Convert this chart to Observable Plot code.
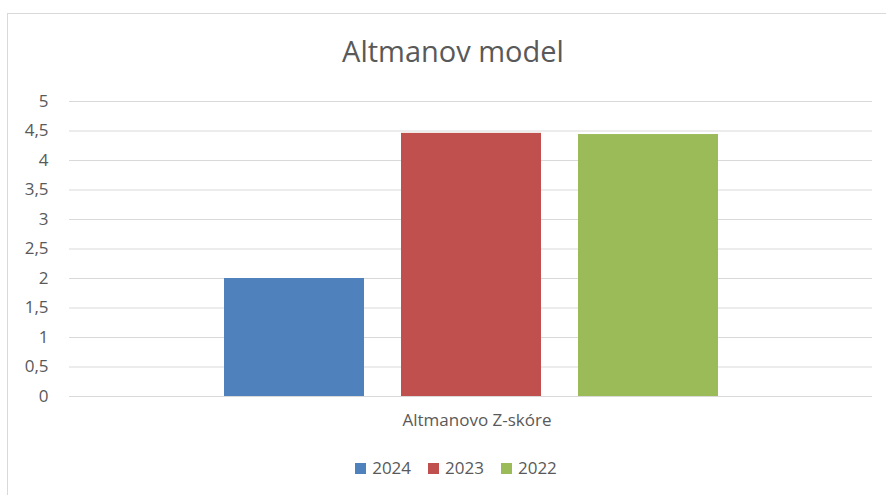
<!DOCTYPE html>
<html>
<head>
<meta charset="utf-8">
<script src="https://cdn.jsdelivr.net/npm/d3@7"></script>
<script src="https://cdn.jsdelivr.net/npm/@observablehq/plot@0.6"></script>
<style>
  html, body { margin: 0; padding: 0; background: #fff; }
  body { width: 886px; height: 495px; overflow: hidden; position: relative; font-family: "Open Sans", sans-serif; color: #595959; }
  #frame { position: absolute; left: 7px; top: 13px; width: 900px; height: 500px; border: 1px solid #d9d9d9; box-sizing: border-box; }
  #title { position: absolute; left: 0; width: 906px; top: 31px; text-align: center; font-size: 29px; line-height: 40px; color: #595959; }
  #chart { position: absolute; left: 0; top: 90px; }
  #legend { position: absolute; left: 0; width: 912px; top: 455px; display: flex; justify-content: center; gap: 17px; font-size: 17px; line-height: 26px; }
  .item { display: flex; align-items: center; gap: 6px; }
  .sw { width: 11px; height: 11px; display: inline-block; }
</style>
</head>
<body>
<div id="frame"></div>
<div id="title">Altmanov model</div>
<div id="chart"></div>
<div id="legend"></div>
<script>
const category = ["Altmanovo Z-skóre"];
const years = ["2024", "2023", "2022"];
const values = [2.0, 4.46, 4.44];
const colors = ["#4f81bd", "#c0504d", "#9bbb59"];
const yTicks = [0, 0.5, 1, 1.5, 2, 2.5, 3, 3.5, 4, 4.5, 5];

const data = years.map((y, i) => ({ cat: category[0], year: y, value: values[i] }));

const chart = Plot.plot({
  width: 886,
  height: 350,
  marginLeft: 69,
  marginRight: 14,
  marginTop: 11,
  marginBottom: 44,
  style: { fontFamily: "Open Sans, sans-serif", fontSize: "16px", color: "#595959", background: "transparent" },
  fx: { domain: category, padding: 0, label: null },
  x: { domain: years, paddingInner: 0.211, paddingOuter: 0.867, axis: null },
  y: { domain: [0, 5], label: null },
  color: { domain: years, range: colors },
  marks: [
    Plot.gridY(yTicks, { stroke: "#d9d9d9", strokeOpacity: 1, strokeWidth: 1 }),
    Plot.axisY(yTicks, { tickSize: 0, tickPadding: 21, tickFormat: d => String(d).replace(".", ","), fill: "#595959", fontSize: 17, label: null }),
    Plot.axisFx({ anchor: "bottom", tickSize: 0, tickPadding: 17, dx: 6, fill: "#595959", fontSize: 17, label: null }),
    Plot.barY(data, { fx: "cat", x: "year", y: "value", fill: "year" })
  ]
});
document.getElementById("chart").appendChild(chart);

const legend = document.getElementById("legend");
years.forEach((y, i) => {
  const it = document.createElement("div");
  it.className = "item";
  const sw = document.createElement("span");
  sw.className = "sw";
  sw.style.background = colors[i];
  const t = document.createElement("span");
  t.textContent = y;
  it.appendChild(sw); it.appendChild(t);
  legend.appendChild(it);
});
</script>
</body>
</html>
